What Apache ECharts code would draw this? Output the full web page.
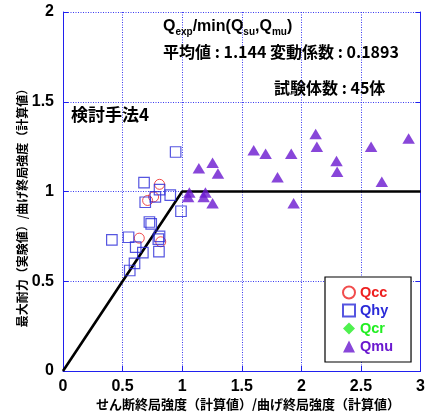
<!DOCTYPE html>
<html><head><meta charset="utf-8">
<script src="https://cdn.jsdelivr.net/npm/echarts@6/dist/echarts.min.js"></script>
<style>html,body{margin:0;padding:0;background:#fff}#c{width:428px;height:414px}</style>
</head><body><div id="c"></div>
<script>
var xTicks = [0, 0.5, 1, 1.5, 2, 2.5, 3];
var yTicks = [0, 0.5, 1, 1.5, 2];
var qccData = [[0.81,1.04],[0.76,0.97],[0.71,0.95],[0.64,0.74],[0.82,0.72]];
var qhyData = [[0.945,1.22],[0.68,1.05],[0.81,1.01],[0.90,0.98],[0.775,0.97],[0.69,0.94],[0.99,0.89],[0.725,0.83],[0.74,0.82],[0.41,0.73],[0.55,0.745],[0.81,0.75],[0.80,0.735],[0.61,0.69],[0.67,0.66],[0.805,0.665],[0.60,0.60],[0.56,0.56]];
var qcrData = [];
var qmuData = [[2.12,1.32],[2.13,1.25],[1.60,1.23],[1.70,1.21],[1.915,1.21],[2.585,1.25],[2.90,1.295],[1.14,1.13],[1.255,1.16],[1.30,1.10],[1.80,1.08],[2.295,1.17],[2.30,1.11],[2.675,1.055],[1.06,0.995],[1.05,0.97],[1.195,0.995],[1.18,0.97],[1.255,0.935],[1.935,0.935]];
var boundLine = [[0,0],[1,1],[3,1]];
var seriesNames = ['Qcc','Qhy','Qcr','Qmu'];
var seriesColors = ['#ee2020','#2a2ad8','#22ee22','#6a18cf'];

var chart = echarts.init(document.getElementById('c'), null, {renderer:'canvas'});
var blue = '#2020ee';
var gridBlue = '#3a3af0';
var numFont = {fontFamily:'Liberation Sans', fontWeight:'bold', fontSize:16, color:'#000'};
var cjk = '"Noto Sans CJK JP"';
chart.setOption({
  animation:false,
  backgroundColor:'#fff',
  grid:{left:63, right:6, top:12, bottom:43, containLabel:false},
  xAxis:[{type:'value', min:0, max:3, interval:0.5, position:'bottom',
    axisLine:{show:true, onZero:false, lineStyle:{color:blue, width:1}},
    axisTick:{show:true, inside:true, length:5, lineStyle:{color:blue}},
    axisLabel:Object.assign({margin:8, formatter:function(v){return String(v);}}, numFont),
    splitLine:{show:true, lineStyle:{color:gridBlue, type:[1,1.5], width:1}}}],
  yAxis:[{type:'value', min:0, max:2, interval:0.5,
    axisLine:{show:true, onZero:false, lineStyle:{color:blue, width:1}},
    axisTick:{show:true, inside:true, length:5, lineStyle:{color:blue}},
    axisLabel:Object.assign({margin:9, formatter:function(v){return String(v);}}, numFont),
    splitLine:{show:true, lineStyle:{color:gridBlue, type:[1,1.5], width:1}}},
    {type:'value', min:0, max:2, interval:0.5, position:'right',
    axisLine:{show:true, onZero:false, lineStyle:{color:blue, width:1}},
    axisTick:{show:true, inside:true, length:5, lineStyle:{color:blue}},
    axisLabel:{show:false}, splitLine:{show:false}}],
  legend:{orient:'vertical', left:325, top:277, padding:[8,18,8,17],
    backgroundColor:'#fff', borderColor:'#000', borderWidth:1.2,
    itemWidth:12, itemHeight:12, itemGap:3,
    textStyle:{fontFamily:'Liberation Sans', fontWeight:'bold', fontSize:14.5},
    data: seriesNames.map(function(n,i){return {name:n, textStyle:{color:seriesColors[i]}};})},
  series:[
    {type:'line', data:boundLine, showSymbol:false, symbol:'none', lineStyle:{color:'#000', width:2.6}, silent:true, z:1},
    {name:'Qcc', type:'scatter', data:qccData, symbol:'circle', symbolSize:10,
      itemStyle:{color:'rgba(0,0,0,0)', borderColor:seriesColors[0], borderWidth:1}, z:3},
    {name:'Qhy', type:'scatter', data:qhyData, symbol:'rect', symbolSize:10.5,
      itemStyle:{color:'rgba(0,0,0,0)', borderColor:seriesColors[1], borderWidth:1.2}, z:3},
    {name:'Qcr', type:'scatter', data:qcrData, symbol:'diamond', symbolSize:11,
      itemStyle:{color:seriesColors[2]}, z:3},
    {name:'Qmu', type:'scatter', data:qmuData, symbol:'triangle', symbolSize:[12.5,10.5],
      itemStyle:{color:seriesColors[3]}, z:3}
  ],
  graphic:[
    {type:'text', left:163, top:19, z:10, style:{
      text:'{q|Q}{s|exp}{q|/min(Q}{s|su}{q|,Q}{s|mu}{q|)}',
      rich:{q:{fontFamily:'Liberation Sans', fontWeight:'bold', fontSize:16, lineHeight:18, verticalAlign:'top', fill:'#000'},
            s:{fontFamily:'Liberation Sans', fontWeight:'bold', fontSize:10, lineHeight:10, verticalAlign:'bottom', fill:'#000'}},
      fill:'#000'}},
    {type:'text', left:163, top:44, z:10, style:{text:'平均値 : 1.144 変動係数 : 0.1893', font:'bold 16px '+cjk+', sans-serif', fill:'#000'}},
    {type:'text', left:274, top:80, z:10, style:{text:'試験体数 : 45体', font:'bold 16px '+cjk+', sans-serif', fill:'#000'}},
    {type:'text', left:71, top:106, z:10, style:{text:'検討手法4', font:'bold 17px '+cjk+', sans-serif', fill:'#000'}},
    {type:'text', x:248, y:404, z:10, style:{text:'せん断終局強度（計算値）/曲げ終局強度（計算値）', font:'bold 13px '+cjk+', sans-serif', fill:'#000', align:'center', verticalAlign:'middle'}},
    {type:'text', x:22, y:205, rotation:Math.PI/2, z:10, style:{text:'最大耐力（実験値）/曲げ終局強度（計算値）', font:'bold 12px '+cjk+', sans-serif', fill:'#000', align:'center', verticalAlign:'middle'}}
  ]
});
</script></body></html>
